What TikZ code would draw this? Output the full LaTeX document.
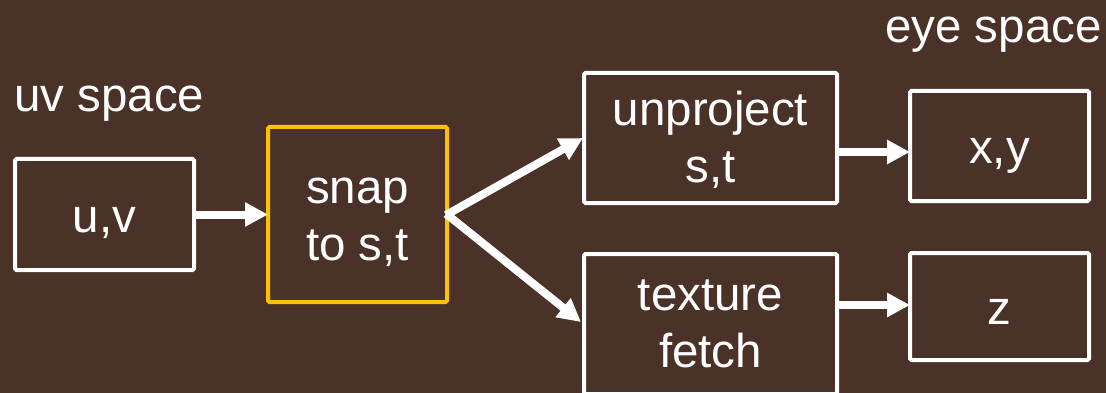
\documentclass[tikz,border=0pt]{standalone}
\usepackage{fontspec}
\setmainfont{Liberation Sans}
\usetikzlibrary{arrows.meta}
\definecolor{bg}{HTML}{4A3228}
\definecolor{orng}{HTML}{FFC000}
\begin{document}
\begin{tikzpicture}[x=1pt,y=-1pt,
  box/.style={draw=white, line width=4pt, rounded corners=1.5pt, outer sep=0pt, inner sep=0pt,
    text=white, align=center, font=\fontsize{47.5}{57}\selectfont},
  single/.style={text height=35pt, text depth=0pt},
  lbl/.style={text=white, inner sep=0pt, font=\fontsize{47.5}{57}\selectfont},
  arr/.style={draw=white, line width=8pt, -{Triangle[length=23pt,width=23pt]}}]
\fill[bg] (0,0) rectangle (1106,393);
\useasboundingbox (0,0) rectangle (1106,393);
\begin{scope}
\clip (0,0) rectangle (1106,393);
\node[box, single, minimum width=179pt, minimum height=111pt] (uv) at (104.5,214.5) {u,v};
\node[box, draw=orng, minimum width=179pt, minimum height=175pt] (snap) at (357.5,214.5) {\rule{0pt}{41pt}snap\\to s,t};
\node[box, minimum width=253pt, minimum height=130pt] (unproj) at (710.5,138) {\rule{0pt}{38pt}unproject\\s,t};
\node[box, minimum width=253pt, minimum height=140pt] (tex) at (710.5,324) {texture\\fetch};
\node[box, single, minimum width=179pt, minimum height=110pt] (xy) at (999.5,146) {x,y};
\node[box, single, minimum width=179pt, minimum height=107pt] (z) at (999.5,306.5) {z};
\end{scope}
\node[lbl, anchor=base west] (uvlabel) at (14,112) {uv space};
\node[lbl, anchor=base west] (eyelabel) at (885,43) {eye space};
\draw[arr] (uv.east) -- (snap.west);
\draw[arr, shorten <=-1pt] (snap.east) -- ([xshift=-1pt]unproj.west);
\draw[arr, shorten <=-1pt] (snap.east) -- ([xshift=-3pt,yshift=2pt]tex.west);
\draw[arr] ([yshift=-14pt]unproj.east) -- ([yshift=-6pt]xy.west);
\draw[arr] ([yshift=19pt]tex.east) -- ([yshift=1.5pt]z.west);
\end{tikzpicture}
\end{document}
